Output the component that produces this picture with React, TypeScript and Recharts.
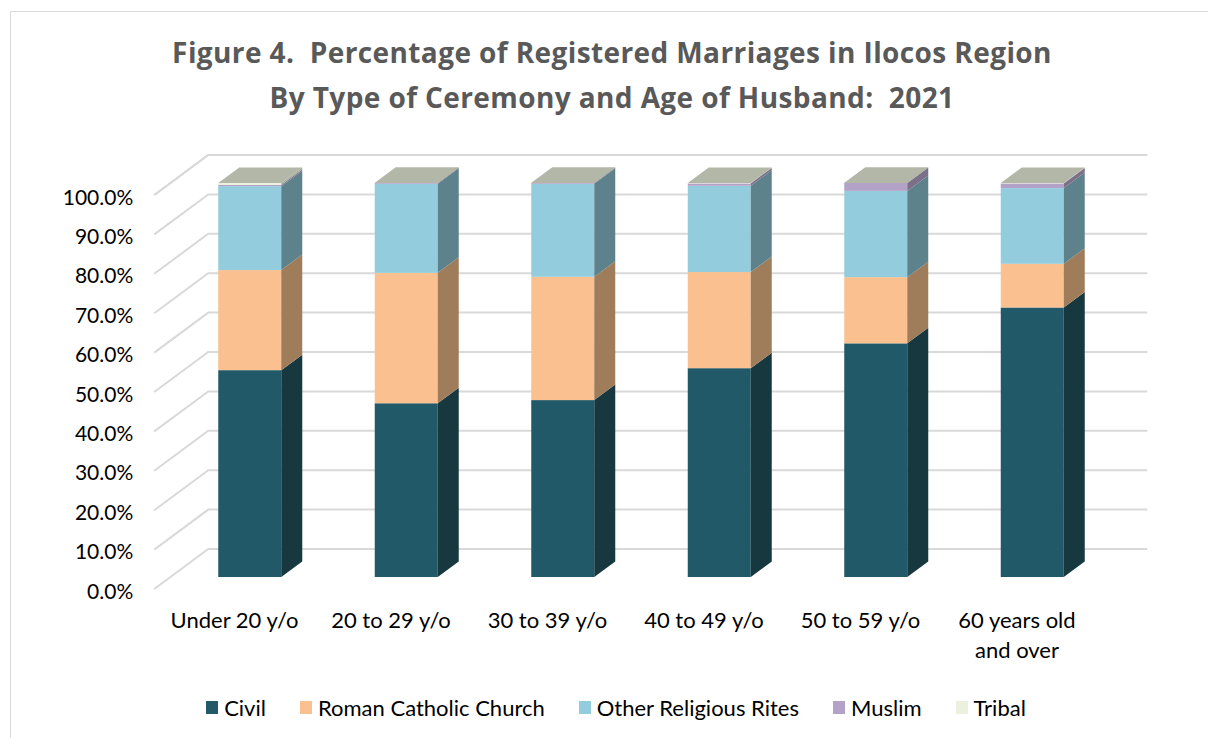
import React from 'react';
import { BarChart, Bar, XAxis, YAxis, CartesianGrid, Legend } from 'recharts';

const categories = ['Under 20 y/o', '20 to 29 y/o', '30 to 39 y/o', '40 to 49 y/o', '50 to 59 y/o', '60 years old and over'];
const categoryLines = [['Under 20 y/o'], ['20 to 29 y/o'], ['30 to 39 y/o'], ['40 to 49 y/o'], ['50 to 59 y/o'], ['60 years old', 'and over']];
const civil = [52.5, 44.1, 44.9, 53.0, 59.3, 68.4];
const romanCatholic = [25.4, 33.1, 31.3, 24.4, 16.8, 11.1];
const otherReligious = [21.3, 22.6, 23.6, 21.9, 21.9, 19.2];
const muslim = [0.3, 0.2, 0.2, 0.6, 2.0, 1.2];
const tribal = [0.5, 0.0, 0.0, 0.1, 0.0, 0.1];
const yTicks = [0, 10, 20, 30, 40, 50, 60, 70, 80, 90, 100];

const seriesKeys = ['civil', 'rc', 'orr', 'muslim', 'tribal'];
const seriesNames = ['Civil', 'Roman Catholic Church', 'Other Religious Rites', 'Muslim', 'Tribal'];
const frontColors = ['#215968', '#fac090', '#93cddd', '#b3a2c7', '#ebf1de'];
const sideColors = ['#17383f', '#9f7c5a', '#5e828b', '#7b6f8a', '#a6ab9c'];
const TOP_COLOR = '#b3b7a8';

const data = categories.map((c, i) => ({
  category: c,
  civil: civil[i],
  rc: romanCatholic[i],
  orr: otherReligious[i],
  muslim: muslim[i],
  tribal: tribal[i],
}));

const DX = 21;
const DY = 15.5;
const FONT = 'Lato, "Open Sans", sans-serif';
const TITLE_FONT = '"Open Sans", Lato, sans-serif';

function makeShape(idx: number) {
  return (props: any) => {
    const { x, y, width, height } = props;
    const payload = props.payload || {};
    if (x == null || y == null || !isFinite(x) || !isFinite(y)) return <g />;
    const laterZero = seriesKeys.slice(idx + 1).every((k) => !payload[k]);
    const drawTop = idx === seriesKeys.length - 1 || laterZero;
    const h = Math.max(0, height || 0);
    return (
      <g>
        {h > 0 && <rect x={x} y={y} width={width} height={h} fill={frontColors[idx]} />}
        {h > 0 && (
          <polygon
            points={`${x + width},${y + h} ${x + width + DX},${y + h - DY} ${x + width + DX},${y - DY} ${x + width},${y}`}
            fill={sideColors[idx]}
          />
        )}
        {drawTop && (
          <polygon
            points={`${x},${y} ${x + width},${y} ${x + width + DX},${y - DY} ${x + DX},${y - DY}`}
            fill={TOP_COLOR}
          />
        )}
      </g>
    );
  };
}

const shapes = seriesKeys.map((_, i) => makeShape(i));

const gridLine = (p: any) => {
  const y = p.y1;
  const x1 = p.x1;
  const x2 = p.x2;
  return (
    <polyline
      key={`g-${p.index}-${y}`}
      points={`${x1 - 17},${y + 12} ${x1 + 37},${y - 28} ${x2 + 37},${y - 28}`}
      fill="none"
      stroke="#d9d9d9"
      strokeWidth={2}
    />
  );
};

const YTick = (p: any) => {
  const v = p.payload.value;
  return (
    <text x={p.x - 38} y={p.y + 13} textAnchor="end" dominantBaseline="central" fontFamily={FONT} fontSize={21} fill="#000">
      {`${Number(v).toFixed(1)}%`}
    </text>
  );
};

const XTick = (p: any) => {
  const idx = categories.indexOf(p.payload.value);
  const lines = categoryLines[idx] || [p.payload.value];
  return (
    <text x={p.x - 15} y={p.y + 51} textAnchor="middle" fontFamily={FONT} fontSize={22} fill="#000">
      {lines.map((l, i) => (
        <tspan key={i} x={p.x - 15} dy={i === 0 ? 0 : 30}>
          {l}
        </tspan>
      ))}
    </text>
  );
};

const LegendContent = () => (
  <div
    style={{
      height: 61,
      display: 'flex',
      alignItems: 'center',
      justifyContent: 'center',
      gap: 34,
      fontFamily: FONT,
      fontSize: 22,
      color: '#000',
      paddingLeft: 24,
      boxSizing: 'border-box',
    }}
  >
    {seriesNames.map((n, i) => (
      <div key={n} style={{ display: 'flex', alignItems: 'center' }}>
        <div style={{ width: 12, height: 13, background: frontColors[i], marginRight: 6 }} />
        <span>{n}</span>
      </div>
    ))}
  </div>
);

export default function App() {
  return (
    <div style={{ position: 'absolute', left: 0, top: 0, width: 1208, height: 738, overflow: 'hidden', background: '#fff' }}>
      <div
        style={{
          position: 'absolute',
          left: 10,
          top: 11,
          width: 1400,
          height: 900,
          border: '1px solid #d9d9d9',
          boxSizing: 'border-box',
        }}
      />
      <div
        style={{
          position: 'absolute',
          left: 0,
          top: 30,
          width: 1208,
          paddingLeft: 16,
          boxSizing: 'border-box',
          textAlign: 'center',
          fontFamily: TITLE_FONT,
          fontWeight: 700,
          fontSize: 28,
          letterSpacing: 0.4,
          lineHeight: '45px',
          color: '#595959',
          whiteSpace: 'pre',
        }}
      >
        <div>{'Figure 4.  Percentage of Registered Marriages in Ilocos Region'}</div>
        <div>{'By Type of Ceremony and Age of Husband:  2021'}</div>
      </div>
      <div style={{ position: 'absolute', left: 0, top: 0 }}>
        <BarChart
          width={1208}
          height={738}
          data={data}
          margin={{ top: 183, right: 97.75, bottom: 0, left: 71.25 }}
          barSize={63}
        >
          <CartesianGrid horizontal={gridLine} vertical={false} />
          <XAxis
            dataKey="category"
            axisLine={false}
            tickLine={false}
            tickSize={0}
            tickMargin={0}
            height={100}
            interval={0}
            tick={<XTick />}
          />
          <YAxis
            domain={[0, 100]}
            ticks={yTicks}
            axisLine={false}
            tickLine={false}
            tickSize={0}
            tickMargin={0}
            width={100}
            tick={<YTick />}
          />
          <Legend
            verticalAlign="bottom"
            content={<LegendContent />}
            wrapperStyle={{ left: 0, width: 1208, bottom: 0 }}
          />
          {seriesKeys.map((k, i) => (
            <Bar
              key={k}
              dataKey={k}
              name={seriesNames[i]}
              stackId="a"
              fill={frontColors[i]}
              shape={shapes[i]}
              isAnimationActive={false}
            />
          ))}
        </BarChart>
      </div>
    </div>
  );
}
